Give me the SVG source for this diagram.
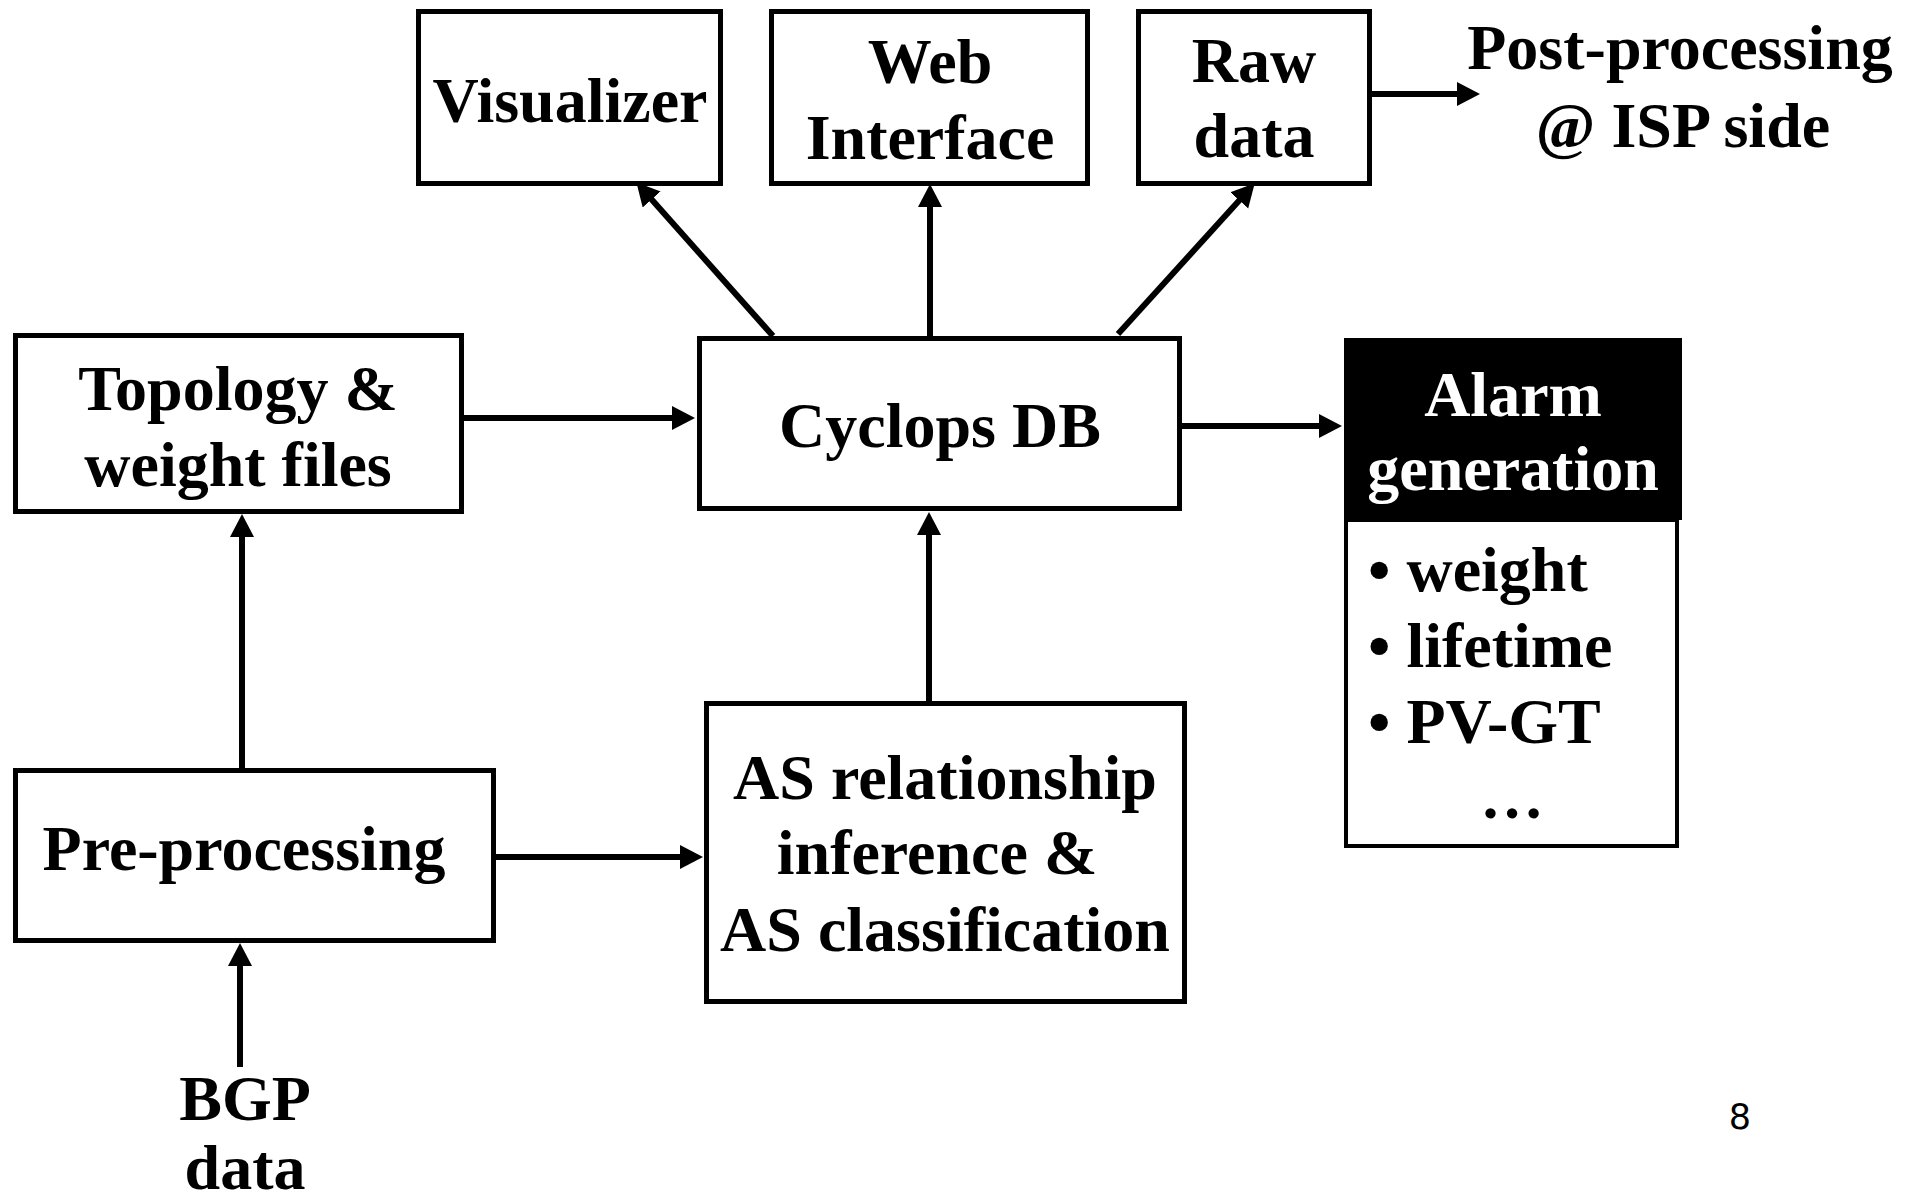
<svg xmlns="http://www.w3.org/2000/svg" width="1919" height="1204" viewBox="0 0 1919 1204">
<defs>
<style>
.box{fill:#fff;stroke:#000;stroke-width:5}
.t{font-family:"Liberation Serif","Times New Roman",serif;font-weight:bold;font-size:64px;fill:#000}
.c{text-anchor:middle}
.w{fill:#fff}
.ln{stroke:#000;stroke-width:6;fill:none;marker-end:url(#ah)}
</style>
<marker id="ah" markerUnits="userSpaceOnUse" markerWidth="26" markerHeight="26" refX="10" refY="12" orient="auto">
<path d="M0,0 L23,12 L0,24 Z" fill="#000"/>
</marker>
</defs>
<rect width="1919" height="1204" fill="#fff"/>
<g id="connectors">
<line class="ln" x1="773" y1="336" x2="645" y2="192"/>
<line class="ln" x1="930" y1="336" x2="930" y2="197"/>
<line class="ln" x1="1118" y1="334" x2="1246" y2="193"/>
<line class="ln" x1="1372" y1="94" x2="1467" y2="94"/>
<line class="ln" x1="464" y1="418" x2="682" y2="418"/>
<line class="ln" x1="1182" y1="426" x2="1329" y2="426"/>
<line class="ln" x1="242" y1="768" x2="242" y2="527"/>
<line class="ln" x1="929" y1="701" x2="929" y2="525"/>
<line class="ln" x1="496" y1="857" x2="690" y2="857"/>
<line class="ln" x1="240" y1="1067" x2="240" y2="956"/>
</g>
<g id="visualizer">
<rect class="box" x="418.5" y="11.5" width="302" height="172"/>
<text class="t c" x="570" y="122">Visualizer</text>
</g>
<g id="web-interface">
<rect class="box" x="771.5" y="11.5" width="316" height="172"/>
<text class="t c" x="930" y="83">Web</text>
<text class="t c" x="930" y="159">Interface</text>
</g>
<g id="raw-data">
<rect class="box" x="1138.5" y="11.5" width="231" height="172"/>
<text class="t c" x="1254" y="82">Raw</text>
<text class="t c" x="1254" y="157">data</text>
</g>
<g id="post-processing">
<text class="t c" x="1680" y="69">Post-processing</text>
<text class="t c" x="1683" y="147">@ ISP side</text>
</g>
<g id="topology">
<rect class="box" x="15.5" y="335.5" width="446" height="176"/>
<text class="t c" x="238" y="410">Topology &amp;</text>
<text class="t c" x="238" y="486">weight files</text>
</g>
<g id="cyclops-db">
<rect class="box" x="699.5" y="338.5" width="480" height="170"/>
<text class="t c" x="940" y="447">Cyclops DB</text>
</g>
<g id="alarm-generation">
<rect x="1344" y="338" width="338" height="182" fill="#000"/>
<rect x="1346" y="520" width="331" height="326" fill="#fff" stroke="#000" stroke-width="4"/>
<text class="t c w" x="1513" y="416">Alarm</text>
<text class="t c w" x="1513" y="490">generation</text>
<text class="t" x="1368" y="591">• weight</text>
<text class="t" x="1368" y="667">• lifetime</text>
<text class="t" x="1368" y="743">• PV-GT</text>
<text class="t c" x="1512" y="818">…</text>
</g>
<g id="pre-processing">
<rect class="box" x="15.5" y="770.5" width="478" height="170"/>
<text class="t c" x="244" y="870">Pre-processing</text>
</g>
<g id="as-relationship">
<rect class="box" x="706.5" y="703.5" width="478" height="298"/>
<text class="t c" x="945" y="799">AS relationship</text>
<text class="t c" x="937" y="874">inference &amp;</text>
<text class="t c" x="945" y="951">AS classification</text>
</g>
<g id="bgp-data">
<text class="t c" x="245" y="1120">BGP</text>
<text class="t c" x="245" y="1189">data</text>
</g>
<text x="1740" y="1129" font-family="'DejaVu Sans','Liberation Sans',sans-serif" font-size="35" text-anchor="middle">8</text>
</svg>
